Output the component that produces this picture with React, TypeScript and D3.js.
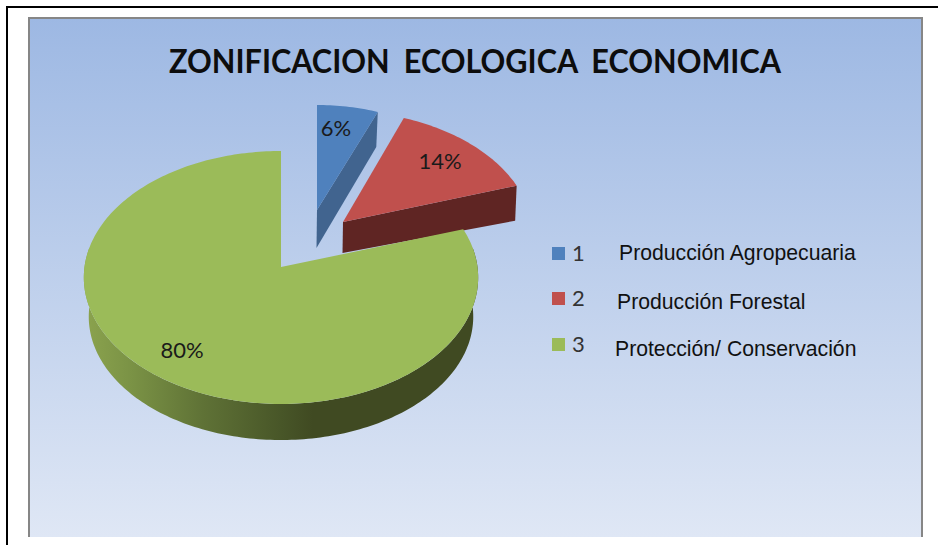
import React from "react";
import * as d3 from "d3";

const categories = ["1", "2", "3"];
const seriesNames = ["Producción Agropecuaria", "Producción Forestal", "Protección/ Conservación"];
const values = [6, 14, 80];
const topColors = ["#4f81bd", "#c0504d", "#9bbb59"];
const sideColors = ["#41648f", "#5f2523", "#404a22"];
const title = "ZONIFICACION ECOLOGICA ECONOMICA";

const W = 938, H = 545;
const A = 125.6, B = 196.5, K = 0.083;

const slices = [
  { s: 0.905, ox: 317, oy: 210, shear: 0 },
  { s: 0.96, ox: 343, oy: 222, shear: 0.035 },
  { s: 1, ox: 281, oy: 267, shear: 0 },
];

function project(theta: number, s: number, ox: number, oy: number, shear = 0): [number, number] {
  const u = Math.sin(theta), v = -Math.cos(theta);
  const d = 1 - K * v;
  const y = (s * A * v) / d;
  return [ox + (s * B * u) / d + shear * y, oy + y];
}

const arcs = d3.pie<number>().sort(null)(values);
const line = d3.line();

const labelPos: [number, number][] = [[336, 136], [440, 169], [182, 358]];
const legendY = [255, 300, 346];
const legendTextPos: [number, number][] = [[619, 260], [617, 309], [615, 356]];
const depth = 42;

function arcPoints(a0: number, a1: number, s: number, ox: number, oy: number, shear = 0) {
  const n = Math.max(2, Math.ceil((a1 - a0) / 0.02));
  return d3.range(n + 1).map((i) => project(a0 + ((a1 - a0) * i) / n, s, ox, oy, shear));
}

function wedge(i: number) {
  const { s, ox, oy, shear } = slices[i];
  const a = arcs[i];
  return line([[ox, oy], ...arcPoints(a.startAngle, a.endAngle, s, ox, oy, shear)])! + "Z";
}

function cutFace(i: number) {
  const { s, ox, oy, shear } = slices[i];
  const end = project(arcs[i].endAngle, s, ox, oy, shear);
  return line([
    [ox, oy],
    end,
    [end[0] - 1.5, end[1] + 35],
    [ox - 0.5, oy + (i === 0 ? 38 : 31)],
  ])! + "Z";
}

function greenRim() {
  const { ox, oy } = slices[2];
  const top = arcPoints(Math.PI * 0.45, Math.PI * 1.55, 1, ox, oy);
  const bottom = arcPoints(Math.PI * 0.45, Math.PI * 1.55, 0.975, ox, oy + depth - 2.5).reverse();
  return line([...top, ...bottom])! + "Z";
}

export default function App() {
  return (
    <svg
      width={W}
      height={H}
      viewBox={`0 0 ${W} ${H}`}
      style={{ position: "absolute", left: 0, top: 0, display: "block", background: "#fff" }}
    >
      <defs>
        <linearGradient id="bg" x1="0" y1="0" x2="0" y2="1">
          <stop offset="0" stopColor="#9db8e3" />
          <stop offset="1" stopColor="#dfe7f5" />
        </linearGradient>
        <linearGradient id="rim" gradientUnits="userSpaceOnUse" x1="85" y1="0" x2="478" y2="0">
          <stop offset="0" stopColor="#8ba34e" />
          <stop offset="0.12" stopColor="#7a9245" />
          <stop offset="0.3" stopColor="#5f7236" />
          <stop offset="0.5" stopColor="#485628" />
          <stop offset="0.58" stopColor="#404a22" />
          <stop offset="1" stopColor="#404a22" />
        </linearGradient>
      </defs>
      <line x1={7} y1={H} x2={7} y2={6} stroke="#000" strokeWidth={2} />
      <line x1={6} y1={7} x2={W} y2={7} stroke="#000" strokeWidth={2} />
      <rect x={29} y={18} width={893} height={519} fill="url(#bg)" />
      <path d="M29,537V18H922V537" fill="none" stroke="#868686" strokeWidth={2} />
      <text
        x={475}
        y={73}
        textAnchor="middle"
        fontFamily="Lato, sans-serif"
        fontWeight={700}
        fontSize={32}
        wordSpacing={7}
        textLength={612}
        lengthAdjust="spacingAndGlyphs"
        fill="#0d0d0d"
      >
        {title}
      </text>

      <path d={cutFace(0)} fill={sideColors[0]} />
      <path d={wedge(0)} fill={topColors[0]} />
      <path d={cutFace(1)} fill={sideColors[1]} />
      <path d={wedge(1)} fill={topColors[1]} />
      <path d={greenRim()} fill="url(#rim)" />
      <path d={wedge(2)} fill={topColors[2]} />

      {arcs.map((a, i) => (
        <text
          key={i}
          x={labelPos[i][0]}
          y={labelPos[i][1]}
          textAnchor="middle"
          fontFamily="Lato, sans-serif"
          fontSize={22}
          fill="#1a1a1a"
        >
          {`${a.data}%`}
        </text>
      ))}

      {categories.map((c, i) => (
        <g key={c}>
          <rect x={552} y={legendY[i] - 8} width={13} height={13} fill={topColors[i]} />
          <text x={572} y={legendY[i] + 6} fontFamily="Lato, sans-serif" fontSize={22} fill="#333">
            {c}
          </text>
          <text
            x={legendTextPos[i][0]}
            y={legendTextPos[i][1]}
            fontFamily="'Liberation Sans', Arial, sans-serif"
            fontSize={21.2}
            fill="#111"
          >
            {seriesNames[i]}
          </text>
        </g>
      ))}
    </svg>
  );
}
